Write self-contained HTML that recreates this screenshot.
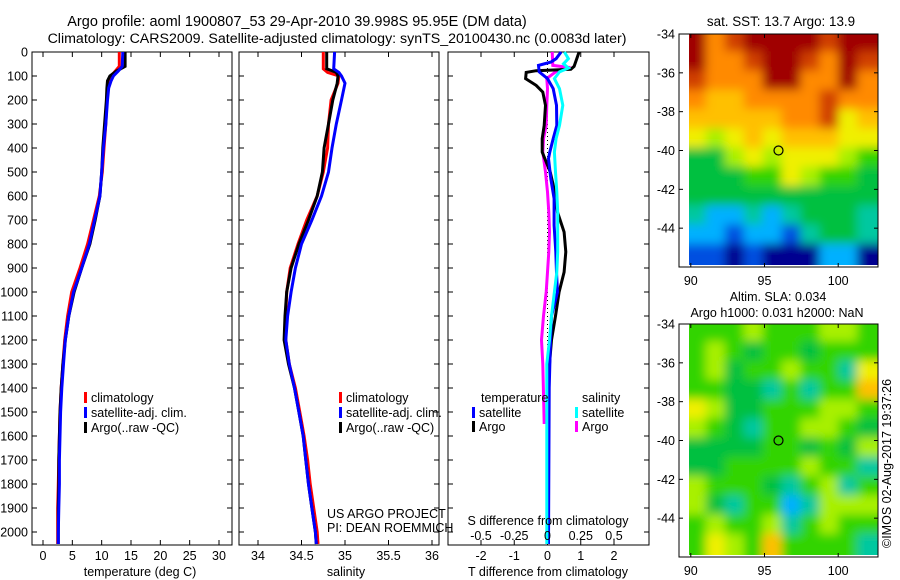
<!DOCTYPE html>
<html><head><meta charset="utf-8"><style>
html,body{margin:0;padding:0;background:#fff}
svg{display:block;font-family:"Liberation Sans",sans-serif;font-size:12.5px}
</style></head><body>
<svg id="fig" width="900" height="580" viewBox="0 0 900 580">
<g id="titles">
<text x="297" y="26" text-anchor="middle" style="font-size:14.5px">Argo profile: aoml 1900807_53 29-Apr-2010 39.998S 95.95E (DM data)</text>
<text x="337" y="43" text-anchor="middle" style="font-size:14.2px">Climatology: CARS2009. Satellite-adjusted climatology: synTS_20100430.nc (0.0083d later)</text>
</g>
<g id="p1"></g>
<g id="p2"></g>
<g id="p3"></g>
<g id="m1"></g>
<g id="m2"></g>
<text x="0" y="0" transform="translate(891,548) rotate(-90)">©IMOS 02-Aug-2017 19:37:26</text>
</svg>
<script>
const depthTicks=[0,100,200,300,400,500,600,700,800,900,1000,1100,1200,1300,1400,1500,1600,1700,1800,1900,2000];
const tempTicks=[0,5,10,15,20,25,30];
const salTicks=[34,34.5,35,35.5,36];
const tdiffTicks=[-2,-1,0,1,2];
const sdiffTicks=[-0.5,-0.25,0,0.25,0.5];
const sdiffTickLabels=["-0.5","-0.25","0","0.25","0.5"];

const depthT=[0,60,80,100,120,150,200,300,400,500,600,700,800,900,1000,1100,1200,1300,1400,1500,1600,1700,1800,1900,2000,2050];
const argoT=[14.0,14.0,12.5,11.4,11.0,10.9,10.8,10.5,10.2,10.0,9.7,8.9,8.0,6.6,5.3,4.4,3.8,3.4,3.1,2.9,2.8,2.7,2.7,2.6,2.6,2.6];
const climT=[13.0,13.0,12.3,11.6,11.2,11.0,10.9,10.7,10.4,10.1,9.6,8.6,7.6,6.3,4.9,4.2,3.7,3.4,3.1,2.9,2.8,2.7,2.6,2.5,2.5,2.5];
const satT=[13.6,13.5,12.8,12.0,11.6,11.2,11.0,10.7,10.3,10.0,9.7,8.8,7.9,6.6,5.2,4.4,3.8,3.5,3.2,3.0,2.9,2.8,2.8,2.7,2.6,2.6];

const depthS=[0,70,85,100,130,200,300,400,500,600,700,800,900,1000,1100,1200,1300,1400,1500,1600,1700,1800,1900,2000,2050];
const argoS=[34.79,34.79,34.90,34.92,34.91,34.86,34.81,34.76,34.74,34.68,34.58,34.47,34.38,34.33,34.31,34.30,34.35,34.42,34.47,34.52,34.55,34.58,34.62,34.66,34.67];
const climS=[34.75,34.75,34.80,34.93,34.92,34.84,34.81,34.80,34.75,34.68,34.56,34.46,34.37,34.33,34.32,34.32,34.36,34.43,34.48,34.53,34.57,34.60,34.64,34.68,34.69];
const satS=[34.88,34.87,34.93,34.96,35.00,34.96,34.90,34.85,34.81,34.73,34.62,34.50,34.43,34.38,34.34,34.32,34.36,34.42,34.47,34.52,34.55,34.58,34.62,34.66,34.67];

const depthArgoDT=[0,60,72,78,85,111,139,167,222,306,361,417,500,583,667,750,833,917,1000,1100,1200,1300,1400,1600,2050];
const argoDT=[0.95,0.8,0.7,-0.34,-0.64,-0.66,-0.34,-0.14,-0.06,-0.1,-0.16,-0.16,0.08,0.22,0.3,0.5,0.55,0.5,0.35,0.24,0.12,0.06,0.03,0.03,0.03];
const depthSatDT=[0,28,42,56,83,111,153,222,306,361,417,444,528,611,722,833,917,1000,1100,1200,1400,2050];
const satDT=[0.41,0.26,0.1,-0.27,-0.25,0,0.17,0.27,0.28,0.17,0.07,0.03,0.1,0.2,0.2,0.25,0.27,0.3,0.12,0.09,0.05,0.03];
const depthArgoDS=[0,56,63,83,111,153,222,306,361,417,500,583,667,750,833,917,1000,1100,1200,1300,1550];
const argoDS=[0.035,0.04,0.14,0.06,-0.005,0.0,-0.005,-0.01,-0.03,-0.035,-0.015,0.0,0.01,0.015,0.01,0.0,-0.01,-0.03,-0.045,-0.035,-0.025];
const depthSatDS=[0,28,49,67,83,111,153,222,306,361,417,500,583,667,750,833,917,1000,1100,1200,1300,2050];
const satDS=[0.127,0.157,0.12,0.157,0.09,0.052,0.09,0.115,0.09,0.065,0.052,0.06,0.07,0.077,0.077,0.077,0.07,0.052,0.03,0.015,-0.005,-0.005];

const sstGrid=[
[11,9,10,11,11,11,11,10,11,11],
[11,9,9,10,11,11,10,9,11,10],
[10,9,9,9,11,11,9,9,11,9],
[9,8,8,9,9,9,9,10,9,9],
[8,8,8,8,8,9,9,10,7,8],
[7,6,7,8,7,8,8,8,7,7],
[4,4,6,7,6,7,7,7,6,5],
[4,4,4,5,5,7,6,5,5,4],
[4,4,4,4,4,4,4,4,4,4],
[3,2,2,3,2,3,4,4,4,3],
[2,2,1,2,2,1,3,4,4,3],
[1,1,0,1,0,0,0,2,2,0]];
const slaGrid=[
[5,5,5,6,5,5,5,6,6,5],
[5,6,5,4,5,5,4,5,5,5],
[5,6,4,5,5,6,5,5,3,7],
[5,5,4,4,3,5,3,5,5,8],
[7,6,4,4,5,5,5,6,6,5],
[6,5,4,3,5,5,6,6,5,4],
[4,4,4,4,5,5,4,5,4,6],
[4,4,5,5,5,5,6,5,5,3],
[6,5,5,5,4,3,5,6,3,5],
[6,4,3,5,5,2,3,6,6,6],
[5,6,5,5,6,3,5,6,5,5],
[5,7,6,5,8,5,5,5,5,3]];
const lonTicks=[90,95,100];
const latTicks=[-34,-36,-38,-40,-42,-44];
const argoLon=95.95, argoLat=-40.0;

const NS='http://www.w3.org/2000/svg';
function mk(parent,tag,attrs,text){const e=document.createElementNS(NS,tag);for(const k in attrs)e.setAttribute(k,attrs[k]);if(text!==undefined)e.textContent=text;parent.appendChild(e);return e;}
const yTop=52,yBot=545;
const yD=d=>yTop+d*0.24;
function lin(d0,d1,r0,r1){return v=>r0+(v-d0)*(r1-r0)/(d1-d0);}

function panel(g,x0,x1,xs,ticks,labels,leftLabels){
  const b=mk(g,'rect',{x:x0,y:yTop,width:x1-x0,height:yBot-yTop,fill:'none',stroke:'#000','stroke-width':1});
  
  
  depthTicks.forEach(d=>{
    const y=yD(d);
    mk(g,'line',{x1:x0,x2:x0+5,y1:y,y2:y,stroke:'#000'});
    mk(g,'line',{x1:x1-5,x2:x1,y1:y,y2:y,stroke:'#000'});
    if(leftLabels){const t=mk(g,'text',{x:x0-4,y:y+4.5,'text-anchor':'end'},String(d));
      
      }
  });
  ticks.forEach((v,i)=>{
    const x=xs(v);
    mk(g,'line',{x1:x,x2:x,y1:yTop,y2:yTop+5,stroke:'#000'});
    mk(g,'line',{x1:x,x2:x,y1:yBot-5,y2:yBot,stroke:'#000'});
    const t=mk(g,'text',{x:x,y:560,'text-anchor':'middle'},labels[i]);
    
    
  });
}
function line(g,xs,depths,vals,color,name,w){
  const pts=depths.map((d,i)=>xs(vals[i]).toFixed(1)+','+yD(d).toFixed(1)).join(' ');
  const p=mk(g,'polyline',{points:pts,fill:'none',stroke:color,'stroke-width':w||3,'stroke-linejoin':'miter'});
  
  
}
function legend(g,x,y,color,label){
  mk(g,'rect',{x:x,y:y-10,width:3,height:11,fill:color});
  const t=mk(g,'text',{x:x+7,y:y},label);
  
  
}

// panel 1
const p1=document.getElementById('p1');
const xT=lin(0,30,43,219);
panel(p1,32,232,xT,tempTicks,tempTicks.map(String),true);
line(p1,xT,depthT,climT,'#f00','clim-temperature-line');
line(p1,xT,depthT,argoT,'#000','argo-temperature-line');
line(p1,xT,depthT,satT,'#00f','satellite-temperature-line');
legend(p1,84,402,'#f00','climatology');
legend(p1,84,417,'#00f','satellite-adj. clim.');
legend(p1,84,432,'#000','Argo(..raw -QC)');
mk(p1,'text',{x:140,y:576,'text-anchor':'middle',},'temperature (deg C)');

// panel 2
const p2=document.getElementById('p2');
const xS=lin(34,36,258,432);
panel(p2,239,439,xS,salTicks,salTicks.map(String),false);
line(p2,xS,depthS,climS,'#f00','clim-salinity-line');
line(p2,xS,depthS,argoS,'#000','argo-salinity-line');
line(p2,xS,depthS,satS,'#00f','satellite-salinity-line');
legend(p2,339,402,'#f00','climatology');
legend(p2,339,417,'#00f','satellite-adj. clim.');
legend(p2,339,432,'#000','Argo(..raw -QC)');
mk(p2,'text',{x:346,y:576,'text-anchor':'middle',},'salinity');
mk(p2,'text',{x:327,y:518,},'US ARGO PROJECT');
mk(p2,'text',{x:327,y:532,},'PI: DEAN ROEMMICH');

// panel 3
const p3=document.getElementById('p3');
const xDT=lin(-2,2,481,614);
const xDS=lin(-0.5,0.5,481,614);
panel(p3,448,649,xDT,tdiffTicks,tdiffTicks.map(String),false);
mk(p3,'line',{x1:xDT(0),x2:xDT(0),y1:yTop,y2:yBot,stroke:'#000','stroke-dasharray':'1,3',});
line(p3,xDS,depthArgoDS,argoDS,'#f0f','argo-salinity-diff-line');
line(p3,xDT,depthArgoDT,argoDT,'#000','argo-temperature-diff-line');
line(p3,xDT,depthSatDT,satDT,'#00f','satellite-temperature-diff-line');
line(p3,xDS,depthSatDS,satDS,'#0ff','satellite-salinity-diff-line');
mk(p3,'text',{x:481,y:402},'temperature');
mk(p3,'text',{x:582,y:402},'salinity');
legend(p3,472,417,'#00f','satellite');
legend(p3,472,431,'#000','Argo');
legend(p3,575,417,'#0ff','satellite');
legend(p3,575,431,'#f0f','Argo');
mk(p3,'text',{x:548,y:525,'text-anchor':'middle',},'S difference from climatology');
sdiffTicks.forEach((v,i)=>{const t=mk(p3,'text',{x:xDS(v),y:540,'text-anchor':'middle'},sdiffTickLabels[i]);
  
  });
mk(p3,'text',{x:548,y:576,'text-anchor':'middle',},'T difference from climatology');

// maps
const pal=['#000090','#0050e0','#00b0ff','#00c8a0','#00c040','#30d400','#a8f000','#f0f000','#ffc000','#ff8a00','#d04000','#a00000'];
function map(gid,y0,grid,clipId){
  const g=document.getElementById(gid);
  const x0=679,x1=878,y1=y0+233;
  const xL=lin(89.2,102.7,x0,x1), yL=lin(-34,-46,y0,y1);
  const defs=mk(g,'defs',{});
  const cp=mk(defs,'clipPath',{id:clipId});
  mk(cp,'rect',{x:689,y:y0,width:x1-689,height:231});
  const f=mk(defs,'filter',{id:clipId+'b',x:'-10%',y:'-10%',width:'120%',height:'120%'});
  mk(f,'feGaussianBlur',{stdDeviation:5});
  const cg=mk(g,'g',{'clip-path':'url(#'+clipId+')'});
  const bg=mk(cg,'g',{filter:'url(#'+clipId+'b)'});
  const cw=(x1-689)/10, ch=231/12;
  grid.forEach((row,r)=>row.forEach((c,k)=>{
    const re=mk(bg,'rect',{x:689+k*cw-2+(k==0?-15:0),y:y0+r*ch-2+(r==0?-15:0),width:cw+4+(k==0||k==9?15:0),height:ch+4+(r==0||r==11?15:0),fill:pal[c]});
    
    
  }));
  mk(g,'rect',{x:x0,y:y0,width:x1-x0,height:y1-y0,fill:'none',stroke:'#000'});
  lonTicks.forEach(v=>{const x=xL(v);mk(g,'line',{x1:x,x2:x,y1:y0,y2:y0+4,stroke:'#000'});mk(g,'line',{x1:x,x2:x,y1:y1-4,y2:y1,stroke:'#000'});
    const t=mk(g,'text',{x:x,y:y1+18,'text-anchor':'middle'},String(v));
    
    });
  latTicks.forEach(v=>{const y=yL(v);mk(g,'line',{x1:x0,x2:x0+4,y1:y,y2:y,stroke:'#000'});mk(g,'line',{x1:x1-4,x2:x1,y1:y,y2:y,stroke:'#000'});
    const t=mk(g,'text',{x:x0-4,y:y+4.5,'text-anchor':'end'},String(v));
    
    });
  const c=mk(g,'circle',{cx:xL(argoLon),cy:yL(argoLat),r:4.5,fill:'none',stroke:'#000','stroke-width':1.2});
  
  
  return g;
}
const g1=map('m1',34,sstGrid,'c1');
mk(g1,'text',{x:781,y:26,'text-anchor':'middle',style:'font-size:13.4px',},'sat. SST: 13.7 Argo: 13.9');
const g2=map('m2',324,slaGrid,'c2');
mk(g2,'text',{x:778,y:301,'text-anchor':'middle',},'Altim. SLA: 0.034');
mk(g2,'text',{x:777,y:317,'text-anchor':'middle',},'Argo h1000: 0.031 h2000: NaN');
</script>
</body></html>
